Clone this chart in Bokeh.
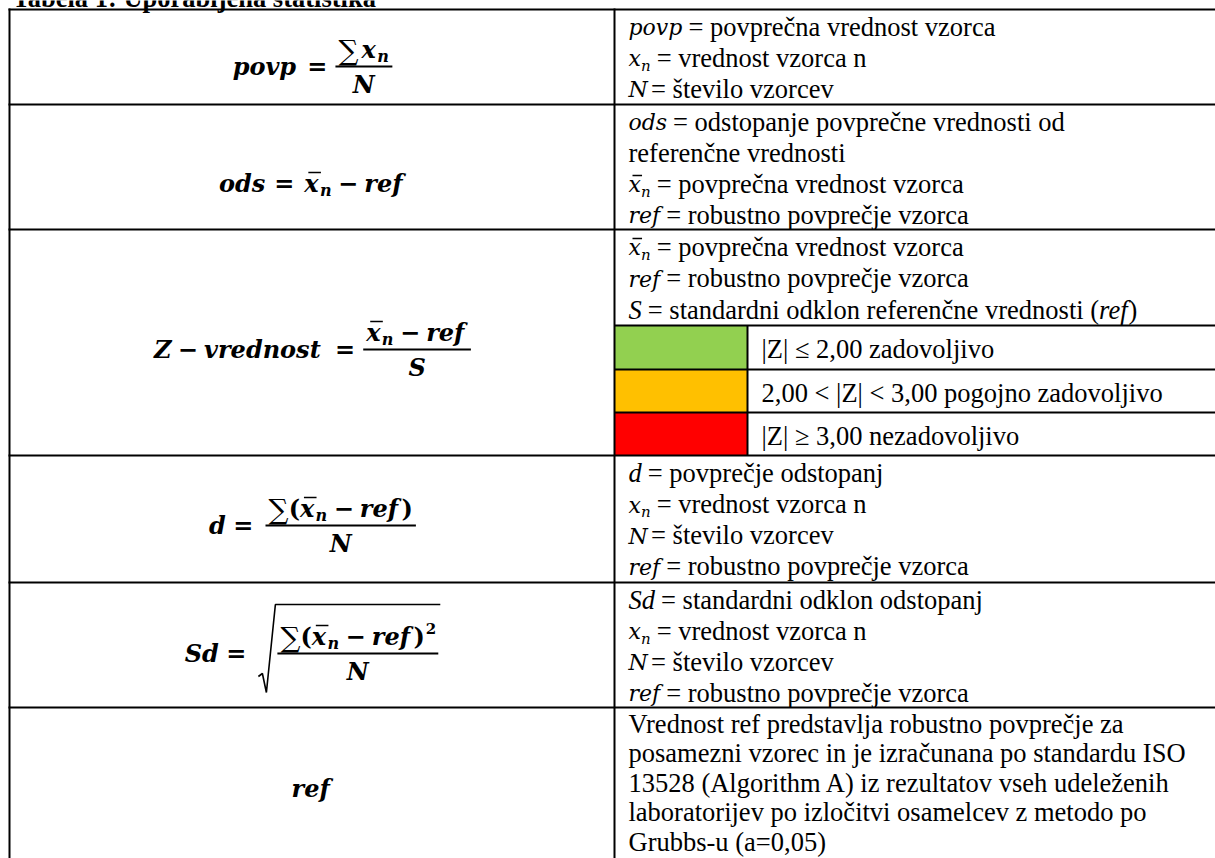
from bokeh.plotting import figure
from bokeh.models import Range1d
from bokeh.core.properties import value
from bokeh.embed import file_html
from bokeh.resources import INLINE

# ---------------- table content ----------------
title_text = "Tabela 1: Uporabljena statistika"
row1_keys = ["povp", "x_n", "N"]
row1_text = ["= povprečna vrednost vzorca", "= vrednost vzorca n", "= število vzorcev"]
row2_keys = ["ods", None, "xbar_n", "ref"]
row2_text = ["= odstopanje povprečne vrednosti od", "referenčne vrednosti",
             "= povprečna vrednost vzorca", "= robustno povprečje vzorca"]
row3_keys = ["xbar_n", "ref", "S"]
row3_text = ["= povprečna vrednost vzorca", "= robustno povprečje vzorca",
             "= standardni odklon referenčne vrednosti ("]
z_labels = ["|Z| ≤ 2,00 zadovoljivo", "2,00 < |Z| < 3,00 pogojno zadovoljivo", "|Z| ≥ 3,00 nezadovoljivo"]
z_colors = ["#92D050", "#FFC000", "#FF0000"]
row4_keys = ["d", "x_n", "N", "ref"]
row4_text = ["= povprečje odstopanj", "= vrednost vzorca n", "= število vzorcev", "= robustno povprečje vzorca"]
row5_keys = ["Sd", "x_n", "N", "ref"]
row5_text = ["= standardni odklon odstopanj", "= vrednost vzorca n", "= število vzorcev", "= robustno povprečje vzorca"]
row6_text = ["Vrednost ref predstavlja robustno povprečje za",
             "posamezni vzorec in je izračunana po standardu ISO",
             "13528 (Algorithm A) iz rezultatov vseh udeleženih",
             "laboratorijev po izločitvi osamelcev z metodo po",
             "Grubbs-u (a=0,05)"]

# ---------------- geometry (page px) ----------------
W, H = 1215, 858
X0, Y0 = 0, 0
LEFT, DIV, SUB, RIGHT = 9, 614, 747, 1225
ROW_Y = [9, 104, 229, 455, 582, 707]
Z_Y = [325, 369, 412, 455]
BOTTOM = 870
TX = 628
FONT_T = "Liberation Serif"
FONT_M = "DejaVu Serif"
TS = 26.5
TEXT_SHIFT = 0.3   # baseline compensation (fraction of font size)

p = figure(width=W, height=H, x_range=Range1d(X0, X0 + W), y_range=Range1d(Y0 + H, Y0),
           output_backend="svg", toolbar_location=None, min_border=0,
           x_axis_type=None, y_axis_type=None)
p.grid.visible = False
p.outline_line_color = None
p.background_fill_color = "white"
p.border_fill_color = "white"

texts = {}
segs = {}
polys = []


def add_text(x, y, s, font, style, size):
    key = (font, style, size)
    d = texts.setdefault(key, {"x": [], "y": [], "t": []})
    d["x"].append(x); d["y"].append(y - TEXT_SHIFT * size); d["t"].append(s)


def add_seg(x0, y0, x1, y1, lw):
    d = segs.setdefault(lw, {"x0": [], "y0": [], "x1": [], "y1": []})
    d["x0"].append(x0); d["y0"].append(y0); d["x1"].append(x1); d["y1"].append(y1)


CW_BI = {'p': .76, 'o': .69, 'v': .65, 'd': .76, 's': .60, 'r': .59, 'e': .68, 'f': .47,
         'x': .65, 'n': .76, 't': .48, 'N': .92, 'S': .72, 'Z': .74}
CW_B = {'=': .84, '−': .84, '∑': .72, '(': .47, ')': .47, '2': .70}
CW_I = {'p': .64, 'o': .60, 'v': .57, 'd': .64, 's': .51, 'r': .48, 'e': .59, 'f': .37,
        'x': .57, 'n': .64, 'N': .75}
CW_T = {'a': .444, 'b': .5, 'c': .444, 'd': .5, 'e': .444, 'f': .333, 'g': .5, 'h': .5, 'i': .278,
        'j': .278, 'k': .5, 'l': .278, 'm': .778, 'n': .5, 'o': .5, 'p': .5, 'r': .333, 's': .389,
        't': .278, 'u': .5, 'v': .5, 'z': .444, ' ': .25, '=': .564, '(': .333, ')': .333, 'č': .444}
CW_TI = {'S': .5, 'd': .5, 'r': .389, 'e': .444, 'f': .278}


def tw(s, table, size):
    return sum(table.get(c, 0.6) for c in s) * size


BOLD = dict(v=(FONT_M, "bold italic", 24, CW_BI), o=(FONT_M, "bold", 24, CW_B),
            big=(FONT_M, "normal", 28, CW_B),
            sub=(FONT_M, "bold italic", 16, CW_BI), sup=(FONT_M, "bold", 15, CW_B),
            t=(FONT_T, "italic", TS, CW_TI), bar_dy=18)
REG = dict(v=(FONT_M, "italic", 22, CW_I), o=(FONT_M, "normal", 22, CW_B),
           big=(FONT_M, "normal", 24, CW_B),
           sub=(FONT_M, "italic", 15, CW_I), sup=(FONT_M, "normal", 14, CW_B),
           t=(FONT_T, "italic", TS, CW_TI), bar_dy=16)


def iw(it, st):
    k = it[0]
    if k in ("v", "bar"):
        f = st["v"]; return tw(it[1], f[3], f[2])
    if k in ("o", "sub", "sup", "t", "big"):
        f = st[k]; return tw(it[1], f[3], f[2])
    if k == "g":
        return it[1]
    if k == "frac":
        return max(meas(it[1], st), meas(it[2], st)) + 6
    if k == "sqrt":
        return 19 + iw(it[1], st) + 2
    return 0


def meas(items, st):
    return sum(iw(i, st) for i in items)


def render(items, x, base, st):
    for it in items:
        k = it[0]
        w = iw(it, st)
        if k in ("v", "o", "t"):
            f = st[k]; add_text(x, base, it[1], f[0], f[1], f[2])
        elif k == "big":
            f = st[k]; add_text(x, base + 2, it[1], f[0], f[1], f[2])
        elif k == "bar":
            f = st["v"]; add_text(x, base, it[1], f[0], f[1], f[2])
            add_seg(x + 4, base - st["bar_dy"], x + w + 1, base - st["bar_dy"], 1.5)
        elif k == "sub":
            f = st["sub"]; add_text(x, base + 5, it[1], f[0], f[1], f[2])
        elif k == "sup":
            f = st["sup"]; add_text(x + 1, base - 11, it[1], f[0], f[1], f[2])
        elif k == "frac":
            yb = base - 7
            wn, wd = meas(it[1], st), meas(it[2], st)
            add_seg(x, yb, x + w, yb, 2)
            render(it[1], x + (w - wn) / 2, yb - 10, st)
            render(it[2], x + (w - wd) / 2, yb + 25, st)
        elif k == "sqrt":
            yb = base - 7
            inner_w = iw(it[1], st)
            polys.append(([x, x + 4, x + 8, x + 17, x + 19 + inner_w + 2],
                          [yb + 23, yb + 20, yb + 39, yb - 49, yb - 49]))
            render([it[1]], x + 19, base, st)
        x += w
    return x


# ---------------- left column formulas ----------------
num_d = [("big", "∑"), ("o", "("), ("bar", "x"), ("sub", "n"), ("g", 6), ("o", "−"), ("g", 6),
         ("v", "ref"), ("o", ")")]
formulas = [
    ([("v", "povp"), ("g", 6), ("o", "="), ("g", 8),
      ("frac", [("big", "∑"), ("g", 3), ("v", "x"), ("sub", "n")], [("v", "N")])], 73),
    ([("v", "ods"), ("g", 6), ("o", "="), ("g", 10), ("bar", "x"), ("sub", "n"), ("g", 6),
      ("o", "−"), ("g", 6), ("v", "ref")], 190),
    ([("v", "Z"), ("g", 6), ("o", "−"), ("g", 6), ("v", "vrednost"), ("g", 6), ("o", "="), ("g", 8),
      ("frac", [("bar", "x"), ("sub", "n"), ("g", 6), ("o", "−"), ("g", 6), ("v", "ref")],
       [("v", "S")])], 356),
    ([("v", "d"), ("g", 6), ("o", "="), ("g", 12), ("frac", num_d, [("v", "N")])], 532),
    ([("v", "Sd"), ("g", 6), ("o", "="), ("g", 12),
      ("sqrt", ("frac", num_d + [("sup", "2")], [("v", "N")]))], 660),
    ([("v", "ref")], 795),
]
CX = 312
for items, base in formulas:
    w = meas(items, BOLD)
    render(items, CX - w / 2, base, BOLD)

# ---------------- right column text ----------------
PREFIX = {"povp": [("v", "povp")], "x_n": [("v", "x"), ("sub", "n")], "N": [("v", "N")],
          "ods": [("v", "ods")], "xbar_n": [("bar", "x"), ("sub", "n")], "ref": [("v", "ref")],
          "S": [("t", "S")], "d": [("t", "d")], "Sd": [("t", "Sd")]}


def text_rows(keys, lines, top, step):
    for i, (k, s) in enumerate(zip(keys, lines)):
        base = top + 25 + i * step
        x = TX
        if k is not None:
            x = render(PREFIX[k], TX, base, REG) + 6
        add_text(x, base, s, FONT_T, "normal", TS)
        if s.endswith("("):
            x2 = x + tw(s, CW_T, TS)
            add_text(x2, base, "ref", FONT_T, "italic", TS)
            add_text(x2 + tw("ref", CW_TI, TS), base, ")", FONT_T, "normal", TS)


text_rows(row1_keys, row1_text, ROW_Y[0], 31)
text_rows(row2_keys, row2_text, ROW_Y[1], 31)
text_rows(row3_keys, row3_text, ROW_Y[2], 31.5)
text_rows(row4_keys, row4_text, ROW_Y[3], 31.3)
text_rows(row5_keys, row5_text, ROW_Y[4], 31)
text_rows([None] * len(row6_text), row6_text, ROW_Y[5] - 1, 29.5)

# title (only its lower part is visible, as in the source)
add_text(12, 5, title_text, FONT_T, "bold", TS)

# ---------------- colored Z cells ----------------
p.quad(left=[DIV] * 3, right=[SUB] * 3, top=Z_Y[:3], bottom=Z_Y[1:], fill_color=z_colors,
       line_color=None)
for i, s in enumerate(z_labels):
    add_text(SUB + 14, Z_Y[i] + 31, s, FONT_T, "normal", TS)

# ---------------- table rules ----------------
for y in ROW_Y:
    add_seg(LEFT - 1, y, RIGHT, y, 2)
for y in Z_Y[:3]:
    add_seg(DIV, y, RIGHT, y, 2)
add_seg(LEFT, ROW_Y[0] - 1, LEFT, BOTTOM, 2)
add_seg(DIV, ROW_Y[0] - 1, DIV, BOTTOM, 2)
add_seg(SUB, Z_Y[0], SUB, Z_Y[3], 2)

for lw, d in segs.items():
    p.segment(x0=d["x0"], y0=d["y0"], x1=d["x1"], y1=d["y1"], line_color="black", line_width=lw)
if polys:
    p.multi_line(xs=[a for a, b in polys], ys=[b for a, b in polys], line_color="black",
                 line_width=1.6)

for (font, style, size), d in texts.items():
    p.text(x=d["x"], y=d["y"], text=d["t"], text_font=value(font), text_font_style=style,
           text_font_size=f"{size}px", text_baseline="alphabetic", text_align="left",
           text_color="black")

open("out.html", "w").write(file_html(p, INLINE))
